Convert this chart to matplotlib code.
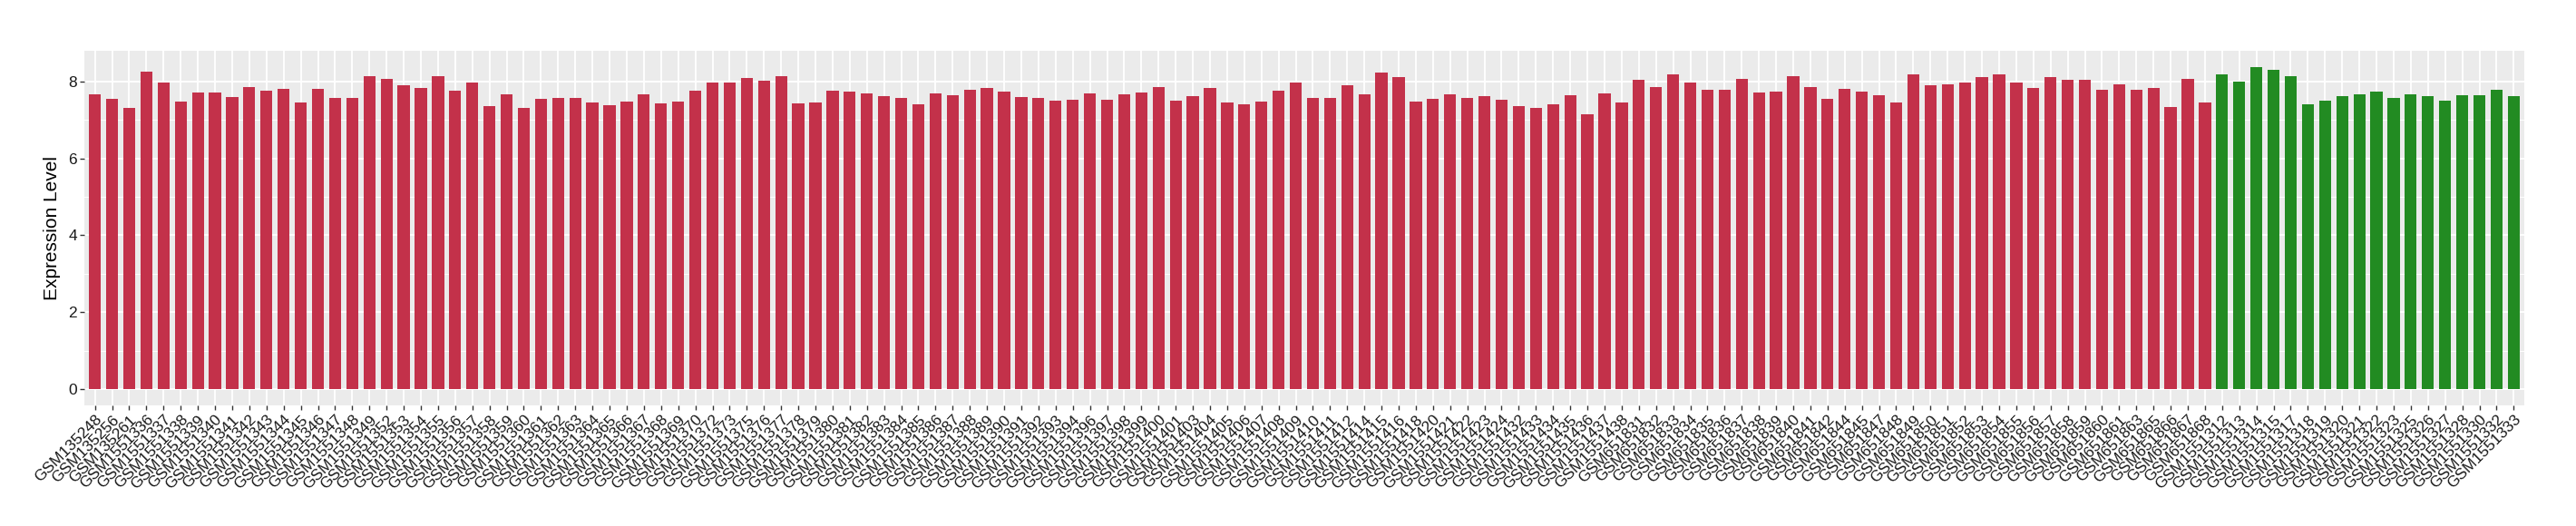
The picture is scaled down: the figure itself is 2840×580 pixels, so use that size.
import matplotlib
matplotlib.use('Agg')
import matplotlib.pyplot as plt
import numpy as np

plt.rcParams['font.family'] = ['Liberation Sans', 'DejaVu Sans']

# samples shown in red
red_samples = [
    'GSM135248', 'GSM135256', 'GSM135261',
    'GSM1551336', 'GSM1551337', 'GSM1551338', 'GSM1551339', 'GSM1551340',
    'GSM1551341', 'GSM1551342', 'GSM1551343', 'GSM1551344', 'GSM1551345',
    'GSM1551346', 'GSM1551347', 'GSM1551348', 'GSM1551349', 'GSM1551352',
    'GSM1551353', 'GSM1551354', 'GSM1551355', 'GSM1551356', 'GSM1551357',
    'GSM1551358', 'GSM1551359', 'GSM1551360', 'GSM1551361', 'GSM1551362',
    'GSM1551363', 'GSM1551364', 'GSM1551365', 'GSM1551366', 'GSM1551367',
    'GSM1551368', 'GSM1551369', 'GSM1551370', 'GSM1551372', 'GSM1551373',
    'GSM1551375', 'GSM1551376', 'GSM1551377', 'GSM1551378', 'GSM1551379',
    'GSM1551380', 'GSM1551381', 'GSM1551382', 'GSM1551383', 'GSM1551384',
    'GSM1551385', 'GSM1551386', 'GSM1551387', 'GSM1551388', 'GSM1551389',
    'GSM1551390', 'GSM1551391', 'GSM1551392', 'GSM1551393', 'GSM1551394',
    'GSM1551396', 'GSM1551397', 'GSM1551398', 'GSM1551399', 'GSM1551400',
    'GSM1551401', 'GSM1551403', 'GSM1551404', 'GSM1551405', 'GSM1551406',
    'GSM1551407', 'GSM1551408', 'GSM1551409', 'GSM1551410', 'GSM1551411',
    'GSM1551412', 'GSM1551414', 'GSM1551415', 'GSM1551416', 'GSM1551418',
    'GSM1551420', 'GSM1551421', 'GSM1551422', 'GSM1551423', 'GSM1551424',
    'GSM1551432', 'GSM1551433', 'GSM1551434', 'GSM1551435', 'GSM1551436',
    'GSM1551437', 'GSM1551438',
    'GSM651831', 'GSM651832', 'GSM651833', 'GSM651834', 'GSM651835',
    'GSM651836', 'GSM651837', 'GSM651838', 'GSM651839', 'GSM651840',
    'GSM651841', 'GSM651842', 'GSM651844', 'GSM651845', 'GSM651847',
    'GSM651848', 'GSM651849', 'GSM651850', 'GSM651851', 'GSM651852',
    'GSM651853', 'GSM651854', 'GSM651855', 'GSM651856', 'GSM651857',
    'GSM651858', 'GSM651859', 'GSM651860', 'GSM651861', 'GSM651863',
    'GSM651865', 'GSM651866', 'GSM651867', 'GSM651868',
]
red_values = [
    7.67, 7.54, 7.32,
    8.25, 7.98, 7.47, 7.71, 7.71, 7.59, 7.86, 7.76, 7.81, 7.44,
    7.81, 7.57, 7.57, 8.13, 8.06, 7.89, 7.84, 8.13, 7.76, 7.96,
    7.35, 7.67, 7.30, 7.54, 7.57, 7.57, 7.44, 7.37, 7.47, 7.67,
    7.42, 7.47, 7.76, 7.98, 7.96, 8.08, 8.01, 8.13, 7.42, 7.44,
    7.76, 7.74, 7.69, 7.62, 7.57, 7.40, 7.69, 7.64, 7.79, 7.84,
    7.74, 7.59, 7.57, 7.49, 7.52, 7.69, 7.52, 7.67, 7.71, 7.86,
    7.49, 7.62, 7.84, 7.44, 7.40, 7.47, 7.76, 7.96, 7.57, 7.57,
    7.89, 7.67, 8.23, 8.11, 7.47, 7.54, 7.67, 7.57, 7.62, 7.52,
    7.35, 7.32, 7.40, 7.64, 7.15, 7.69, 7.44,
    8.03, 7.86, 8.18, 7.96, 7.79, 7.79, 8.06, 7.71, 7.74, 8.13,
    7.86, 7.54, 7.81, 7.74, 7.64, 7.44, 8.18, 7.91, 7.93, 7.98,
    8.11, 8.18, 7.98, 7.84, 8.12, 8.04, 8.04, 7.77, 7.92, 7.79,
    7.82, 7.34, 8.07, 7.46,
]

# samples shown in green
green_samples = [
    'GSM1551312', 'GSM1551313', 'GSM1551314', 'GSM1551315', 'GSM1551317',
    'GSM1551318', 'GSM1551319', 'GSM1551320', 'GSM1551321', 'GSM1551322',
    'GSM1551323', 'GSM1551325', 'GSM1551326', 'GSM1551327', 'GSM1551328',
    'GSM1551330', 'GSM1551332', 'GSM1551333',
]
green_values = [
    8.19, 7.99, 8.37, 8.29, 8.14, 7.41, 7.51, 7.61, 7.66, 7.74,
    7.56, 7.66, 7.61, 7.51, 7.64, 7.64, 7.77, 7.61,
]

labels = red_samples + green_samples
values = red_values + green_values
colors = ['#C3314A'] * len(red_values) + ['#228B22'] * len(green_values)
x = np.arange(len(labels))

fig = plt.figure(figsize=(28.4, 5.8), dpi=100)
ax = fig.add_axes([93.3 / 2840, 1 - 446.7 / 580, (2782.7 - 93.3) / 2840, (446.7 - 56.3) / 580])

ax.bar(x, values, width=0.7, color=colors, zorder=3)

# ggplot-like grey panel
ax.set_facecolor('#EBEBEB')
ax.set_xlim(-0.6, len(labels) - 1 + 0.6)
vmax = max(values)
ax.set_ylim(-0.05 * vmax, 1.05 * vmax)
ax.set_yticks([0, 2, 4, 6, 8])
ax.set_yticks([1, 3, 5, 7], minor=True)
ax.grid(which='major', color='white', lw=1.3)
ax.grid(which='minor', axis='y', color='white', lw=0.7)
ax.set_axisbelow(True)
for s in ax.spines.values():
    s.set_visible(False)
ax.tick_params(axis='both', which='major', length=3.5, width=1, color='#333333',
               labelsize=12.5, labelcolor='#1a1a1a', pad=2.5)
ax.tick_params(which='minor', length=0)
ax.set_xticks(x)
ax.set_xticklabels(labels, rotation=45, ha='right', va='top', rotation_mode='anchor')
ax.set_ylabel('Expression Level', fontsize=15, labelpad=6)

fig.savefig('out.png', dpi=100)
